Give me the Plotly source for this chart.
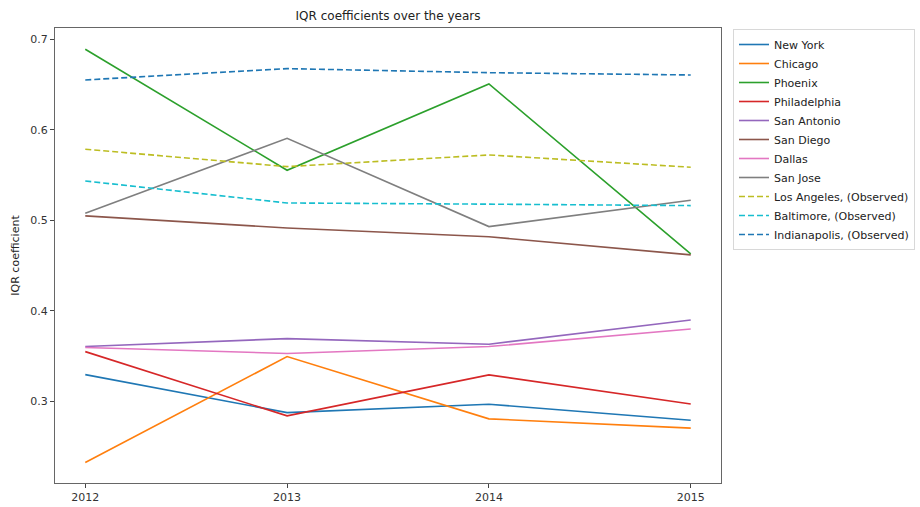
import plotly.graph_objects as go

years = [2012, 2013, 2014, 2015]

cities = ["New York", "Chicago", "Phoenix", "Philadelphia", "San Antonio",
          "San Diego", "Dallas", "San Jose",
          "Los Angeles, (Observed)", "Baltimore, (Observed)", "Indianapolis, (Observed)"]

new_york = [0.3296, 0.2876, 0.2969, 0.2792]
chicago = [0.2324, 0.3495, 0.2807, 0.2704]
phoenix = [0.6892, 0.5555, 0.6508, 0.4630]
philadelphia = [0.3550, 0.2840, 0.3293, 0.2972]
san_antonio = [0.3606, 0.3694, 0.3632, 0.3900]
san_diego = [0.5050, 0.4917, 0.4820, 0.4619]
dallas = [0.3595, 0.3530, 0.3606, 0.3800]
san_jose = [0.5080, 0.5908, 0.4932, 0.5223]
los_angeles = [0.5787, 0.5595, 0.5724, 0.5588]
baltimore = [0.5436, 0.5193, 0.5180, 0.5164]
indianapolis = [0.6553, 0.6678, 0.6633, 0.6608]

series = [new_york, chicago, phoenix, philadelphia, san_antonio, san_diego,
          dallas, san_jose, los_angeles, baltimore, indianapolis]
colors = ["#1f77b4", "#ff7f0e", "#2ca02c", "#d62728", "#9467bd", "#8c564b",
          "#e377c2", "#7f7f7f", "#bcbd22", "#17becf", "#1f77b4"]
dashed = [False] * 8 + [True] * 3

y_ticks = [0.3, 0.4, 0.5, 0.6, 0.7]

fig = go.Figure()
for name, vals, col, d in zip(cities, series, colors, dashed):
    fig.add_trace(go.Scatter(
        x=years, y=vals, mode="lines", name=name,
        line=dict(color=col, width=1.6, dash="6px,3px" if d else "solid"),
    ))

font_family = "DejaVu Sans"
fig.update_layout(
    width=920, height=507,
    margin=dict(l=55, r=199, t=28, b=24, autoexpand=False),
    paper_bgcolor="white", plot_bgcolor="white",
    font=dict(family=font_family, size=11, color="#333"),
    title=dict(text="IQR coefficients over the years", x=(55 + 721) / 2 / 920,
               xanchor="center", y=1 - 16 / 507, yanchor="middle",
               font=dict(size=12, color="#222")),
    xaxis=dict(range=[2011.85, 2015.15], tickvals=years, ticktext=[str(y) for y in years],
               showgrid=False, zeroline=False, showline=True, linecolor="#666",
               linewidth=1, mirror=True, ticks="outside", ticklen=4, tickcolor="#444",
               tickfont=dict(size=11, color="#333")),
    yaxis=dict(range=[0.2098, 0.7127], tickvals=y_ticks, tickformat=".1f",
               showgrid=False, zeroline=False, showline=True, linecolor="#666",
               linewidth=1, mirror=True, ticks="outside", ticklen=4, tickcolor="#444",
               tickfont=dict(size=11, color="#333"),
               title=dict(text="IQR coefficient", font=dict(size=11, color="#222"), standoff=8)),
    legend=dict(xref="container", yref="container", x=733 / 920, xanchor="left",
                y=1 - 29 / 507, yanchor="top",
                bgcolor="white", bordercolor="#d8d8d8", borderwidth=1,
                font=dict(size=11, color="#222"), tracegroupgap=0,
                itemwidth=30),
    showlegend=True,
)

fig.write_html("out.html")
